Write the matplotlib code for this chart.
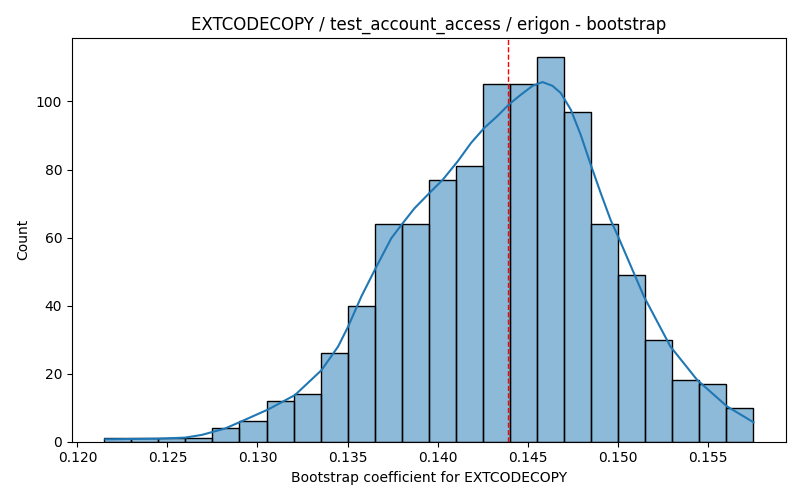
import numpy as np
import matplotlib
matplotlib.use('Agg')
import matplotlib.pyplot as plt

# histogram bins
bin_start = 0.1215
bin_width = 0.0015
counts = [1, 1, 1, 1, 4, 6, 12, 14, 26, 40, 64, 64,
          77, 81, 105, 105, 113, 97, 64, 49, 30, 18, 17, 10]

# kde curve (x value, count scale)
kde_x = [0.12155, 0.12451, 0.12598, 0.12691, 0.12821, 0.12912, 0.13060,
         0.13208, 0.13355, 0.13448, 0.13503, 0.13577, 0.13660, 0.13743,
         0.13799, 0.13872, 0.13955, 0.14029, 0.14112, 0.14186, 0.14259,
         0.14334, 0.14398, 0.14463, 0.14528, 0.14583, 0.14638, 0.14684,
         0.14740, 0.14795, 0.14851, 0.14906, 0.14961, 0.15007, 0.15146,
         0.15293, 0.15441, 0.15607, 0.15755]
kde_y = [0.7, 0.9, 1.2, 2.0, 3.9, 6.0, 9.5,
         13.7, 21.0, 28.0, 33.8, 42.7, 51.4, 59.8,
         63.7, 68.6, 73.1, 77.0, 82.4, 87.8, 92.2,
         95.8, 99.2, 102.0, 104.6, 105.7, 104.6, 102.5,
         97.6, 90.2, 81.4, 73.1, 65.2, 59.8, 42.7,
         28.0, 18.2, 10.4, 5.7]

mean_value = 0.14390
title = "EXTCODECOPY / test_account_access / erigon - bootstrap"
xlabel = "Bootstrap coefficient for EXTCODECOPY"

edges = bin_start + bin_width * np.arange(len(counts))

fig, ax = plt.subplots(figsize=(8, 5), dpi=100)
ax.bar(edges, counts, width=bin_width, align="edge",
       facecolor=(0.122, 0.467, 0.706, 0.5), edgecolor="black", linewidth=1)
ax.plot(kde_x, kde_y, color="#1f77b4", linewidth=1.5)
ax.axvline(mean_value, color="red", linestyle="--", linewidth=1, zorder=3)

ax.set_title(title)
ax.set_xlabel(xlabel)
ax.set_ylabel("Count")
ax.set_xticks([0.120, 0.125, 0.130, 0.135, 0.140, 0.145, 0.150, 0.155])
ax.set_xticklabels(["0.120", "0.125", "0.130", "0.135", "0.140", "0.145", "0.150", "0.155"])
ax.set_yticks([0, 20, 40, 60, 80, 100])

plt.subplots_adjust(left=0.09, right=0.9825, top=0.924, bottom=0.1166)
plt.savefig("out.png", dpi=100)
